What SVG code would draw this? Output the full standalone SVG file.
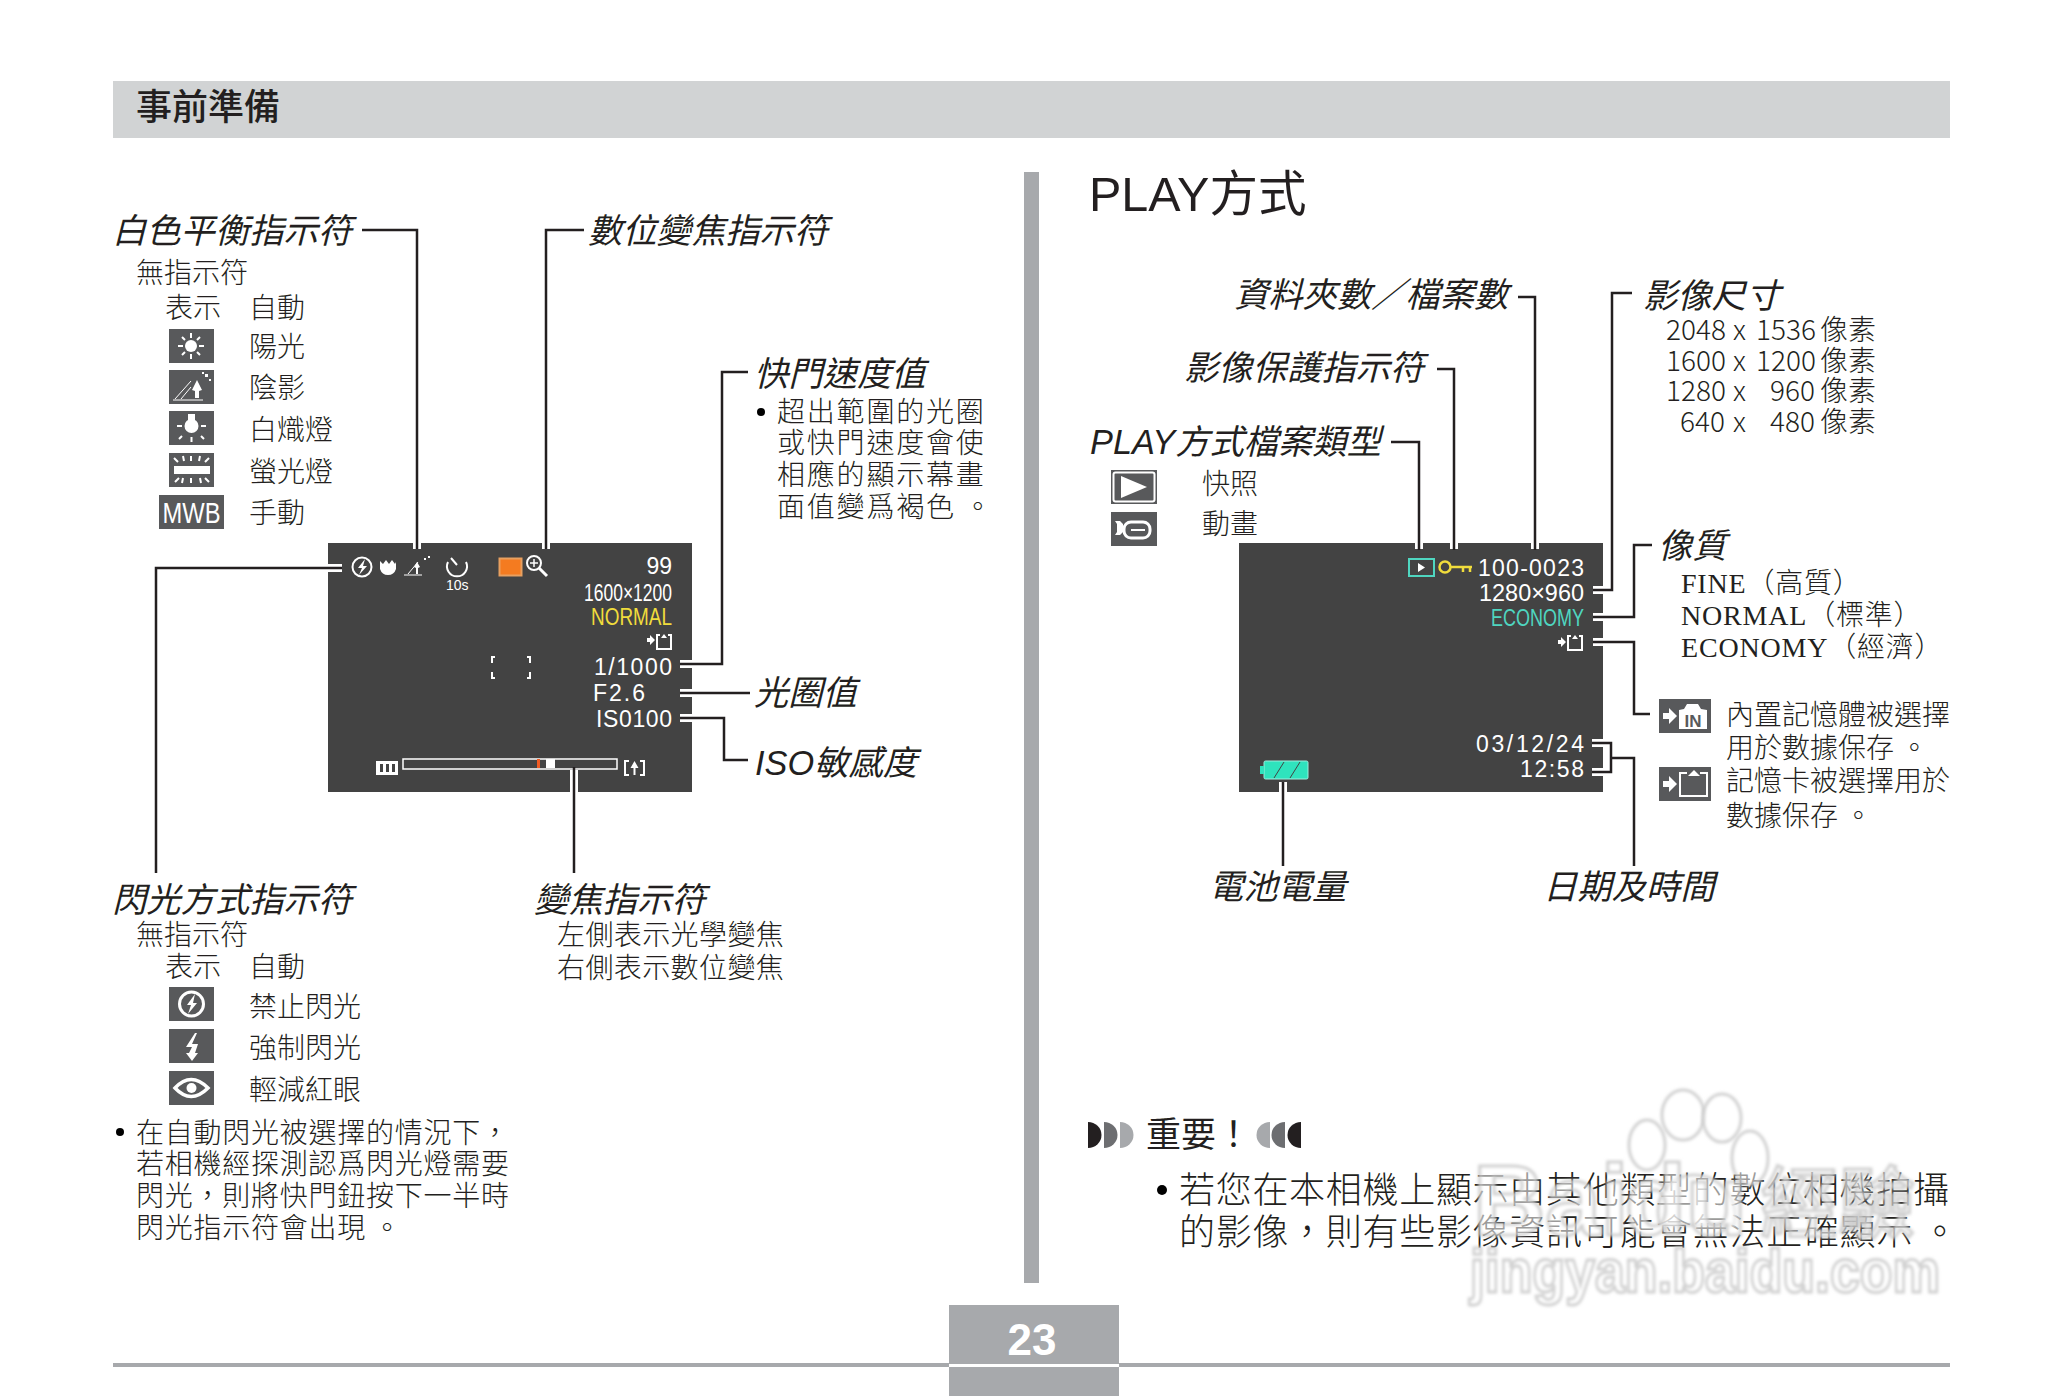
<svg xmlns="http://www.w3.org/2000/svg" width="2064" height="1396" viewBox="0 0 2064 1396">
<style>
text{font-family:"Noto Sans CJK TC","Noto Sans CJK SC",sans-serif;fill:#231f20}
.b{font-family:"Liberation Serif","Noto Sans CJK TC",serif;font-size:28px;font-weight:300}
.c{font-family:"Noto Sans CJK TC",sans-serif;font-size:28px;font-weight:300}
.s{letter-spacing:1.800px}
.t{letter-spacing:.750px}
.h{font-size:34.300px;font-style:italic;font-weight:400}
.l{font-family:"Liberation Sans",sans-serif;fill:#fff;font-size:23px;text-anchor:end}
.ln{fill:none;stroke:#231f20;stroke-width:2.500}
.hl{fill:none;stroke:#fff;stroke-width:8}
.ic{fill:#58595b}
.lcd{fill:#434343}
.w{fill:none;stroke:#fff;stroke-width:2}
.wf{fill:#fff}
.wm{fill:#fff;fill-opacity:.55;stroke:#c8c8c8;stroke-width:3;stroke-opacity:.85;font-family:"Liberation Sans","Noto Sans CJK TC",sans-serif;filter:url(#soft)}
</style>
<defs><filter id="soft" x="-10%" y="-10%" width="120%" height="120%"><feGaussianBlur stdDeviation="1.500"/></filter></defs>
<rect width="2064" height="1396" fill="#fff"/>
<g id="header"><rect x="113" y="81" width="1837" height="57" fill="#d1d3d4"/><text x="136" y="120" font-size="36" font-weight="500">事前準備</text></g>
<rect id="divider" x="1024" y="172" width="15" height="1111" fill="#a7a9ac"/>
<g id="title"><text x="1089" y="211" font-size="48.500" style="font-family:'Liberation Sans','Noto Sans CJK TC',sans-serif">PLAY方式</text></g>

<g id="lcd-record">
<rect class="lcd" x="328" y="543" width="364" height="249"/>
<circle class="w" cx="362" cy="567" r="9.500"/><path class="wf" d="M365 559l-7 9h4l-3 7 8-9h-4z"/>
<path class="wf" d="M380 561l3 3 3-4 3 4 3-4 3 4 1-2v7q-2 6-8 6t-8-6z"/>
<path d="M404 575h18M408 574l10-12" stroke="#fff" stroke-width="1" fill="none"/><path class="wf" d="M416 574v-6l-2-1 3-5 3 5-2 1v6zM424 558h2v2h-2zM428 556h2v2h-2z"/>
<path class="w" d="M448 562a10 10 0 1 0 18 0M451 558l6 7"/>
<text x="446" y="590" style="font-family:'Liberation Sans',sans-serif;fill:#fff;font-size:14px">10s</text>
<rect x="499.500" y="558.500" width="22" height="17" fill="#f47b20" stroke="#e8a060" stroke-width="2"/>
<circle class="w" cx="534" cy="563" r="7"/><path d="M539 568l8 8" stroke="#fff" stroke-width="3"/><path d="M530 563h8M534 559v8" stroke="#fff" stroke-width="1.500"/>
<text class="l" x="672" y="574">99</text>
<text class="l" x="672" y="601" textLength="88" lengthAdjust="spacingAndGlyphs">1600×1200</text>
<text class="l" x="672" y="625" style="fill:#f0dc3c" textLength="81" lengthAdjust="spacingAndGlyphs">NORMAL</text>
<path class="wf" d="M647 638h3v-3l5 5-5 5v-3h-3z"/><path d="M660 635h-3v14h14v-14h-3" class="w" stroke-width="1.500"/><path class="wf" d="M664 634l3 4h-6z"/>
<text class="l" x="672" y="675" textLength="78" lengthAdjust="spacing">1/1000</text>
<text class="l" x="645" y="701" textLength="52" lengthAdjust="spacing">F2.6</text>
<text class="l" x="672" y="727" textLength="76" lengthAdjust="spacing">IS0100</text>
<path class="w" stroke-width="1.500" d="M492 663v-6h3M527 657h3v6M492 672v6h3M527 678h3v-6"/>
<rect x="403" y="759" width="214" height="10" fill="none" stroke="#fff" stroke-width="1.500"/>
<rect x="537" y="759" width="3" height="9" fill="#f15a22"/><rect x="546" y="759" width="9" height="9" fill="#fff"/>
<rect x="376" y="761" width="22" height="14" fill="#fff"/><path d="M380 764h3v8h-3zM386 764h3v8h-3zM392 764h3v8h-3z" fill="#434343"/>
<path class="w" d="M629 761h-4v14h4M640 761h4v14h-4"/><path class="wf" d="M634.500 761l4 7h-3v7h-2v-7h-3z"/>
</g>

<g id="lcd-play">
<rect class="lcd" x="1239" y="543" width="364" height="249"/>
<rect x="1409" y="559" width="25" height="17" fill="none" stroke="#4fd6c0" stroke-width="2"/><path d="M1418 563l7 4.500-7 4.500z" fill="#fff"/>
<circle cx="1445" cy="567" r="5.500" fill="none" stroke="#f0dc3c" stroke-width="2.500"/><path d="M1451 567h21M1463 567v5M1470 567v5" fill="none" stroke="#f0dc3c" stroke-width="2.500"/>
<text class="l" x="1584" y="576" textLength="106" lengthAdjust="spacing">100-0023</text>
<text class="l" x="1584" y="601" textLength="105" lengthAdjust="spacingAndGlyphs">1280×960</text>
<text class="l" x="1584" y="626" style="fill:#4fd6c0" textLength="93" lengthAdjust="spacingAndGlyphs">ECONOMY</text>
<path class="wf" d="M1558 640h3v-3l5 5-5 5v-3h-3z"/><path d="M1571 636h-3v14h14v-14h-3" class="w"/><path class="wf" d="M1575 635l3 4h-6z"/>
<text class="l" x="1584" y="752" textLength="108" lengthAdjust="spacing">03/12/24</text>
<text class="l" x="1584" y="777" textLength="64" lengthAdjust="spacing">12:58</text>
<rect x="1264" y="761" width="44" height="18" rx="1.500" fill="#2fe3bd" stroke="#9eeede" stroke-width="1"/><rect x="1260" y="766" width="4" height="8" fill="#2fe3bd"/>
<path d="M1274 778l10-16M1290 778l10-16" stroke="#434343" stroke-width="1"/>
</g>

<g id="connectors">
<path class="hl" d="M417 543V549M342 568H328M546 543V549M680 664H692M680 693H692M680 718H692M574 770V792M1419 543V549M1454 543V549M1535 543V549M1593 590H1603M1593 617H1603M1593 642H1603M1592 743H1603M1592 772H1603M1283 782V792"/>
<path class="ln" d="M362 230H417V549"/>
<path class="ln" d="M584 230H546V549"/>
<path class="ln" d="M342 568H156V873"/>
<path class="ln" d="M680 664H722V372H748"/>
<path class="ln" d="M680 693H750"/>
<path class="ln" d="M680 718H724V760H748"/>
<path class="ln" d="M574 767V873"/>
<path class="ln" d="M1391 442H1419V550"/>
<path class="ln" d="M1437 369H1454V550"/>
<path class="ln" d="M1518 297H1535V550"/>
<path class="ln" d="M1632 293H1612V590H1593"/>
<path class="ln" d="M1652 545H1634V617H1593"/>
<path class="ln" d="M1593 642H1634V714H1650"/>
<path class="ln" d="M1592 743H1611V772H1592M1611 758H1634V866"/>
<path class="ln" d="M1283 782V866"/>
</g>

<g id="wb">
<text class="h" x="112" y="243">白色平衡指示符</text>
<text class="c" x="136" y="283">無指示符</text>
<text class="c" x="165" y="318">表示</text><text class="c" x="249" y="318">自動</text>
<rect class="ic" x="169" y="329" width="45" height="34"/><circle class="wf" cx="191" cy="346" r="6"/><path stroke="#fff" stroke-width="2" d="M191 333v5M191 354v5M178 346h5M199 346h5M182 337l3 3M197 352l3 3M200 337l-3 3M185 352l-3 3"/>
<text class="c" x="249" y="357">陽光</text>
<rect class="ic" x="169" y="370" width="45" height="34"/><path d="M173 400h30M175 399l16-18M181 399l10-12" stroke="#fff" stroke-width="1"/><path class="wf" d="M195 398v-7l-3-1 5-10 5 10-3 1v7zM205 374h3v3h-3zM209 379h2v2h-2zM202 372h2v2h-2z"/>
<text class="c" x="249" y="398">陰影</text>
<rect class="ic" x="169" y="411" width="45" height="34"/><path class="wf" d="M188 414h7v6h-7z"/><circle class="wf" cx="191.500" cy="426" r="7"/><path stroke="#fff" stroke-width="2" d="M177 426h5M201 426h5M191.500 437v5M182 436l-3 3M201 436l3 3"/>
<text class="c" x="249" y="440">白熾燈</text>
<rect class="ic" x="169" y="453" width="45" height="34"/><rect class="wf" x="174" y="466" width="36" height="8"/><path stroke="#fff" stroke-width="2" d="M191 456v5M183 456l1 5M200 456l-1 5M174 458l4 4M209 458l-4 4M191 478v5M183 478l-1 5M200 478l1 5M175 482l4-4M209 482l-4-4"/>
<text class="c" x="249" y="482">螢光燈</text>
<rect class="ic" x="159" y="495" width="65" height="34"/><text x="191.500" y="523" text-anchor="middle" textLength="58" lengthAdjust="spacingAndGlyphs" style="font-family:'Liberation Sans',sans-serif;fill:#fff;font-size:30px;">MWB</text>
<text class="c" x="249" y="523">手動</text>
</g>

<g id="dzoom"><text class="h" x="588" y="243">數位變焦指示符</text></g>
<g id="shutter">
<text class="h" x="754" y="386">快門速度值</text>
<circle cx="761" cy="412" r="4"/>
<g class="c s"><text x="777" y="422">超出範圍的光圈</text><text x="777" y="453">或快門速度會使</text><text x="777" y="485">相應的顯示幕畫</text><text x="777" y="517">面值變爲褐色 。</text></g>
</g>
<g id="aperture"><text class="h" x="754" y="705">光圈值</text></g>
<g id="iso"><text class="h" x="755" y="775" style="font-family:'Liberation Sans','Noto Sans CJK TC',sans-serif">ISO敏感度</text></g>

<g id="flash">
<text class="h" x="112" y="912">閃光方式指示符</text>
<text class="c" x="136" y="945">無指示符</text>
<text class="c" x="165" y="977">表示</text><text class="c" x="249" y="977">自動</text>
<rect class="ic" x="169" y="987" width="45" height="34"/><circle cx="191.500" cy="1004" r="12" fill="none" stroke="#fff" stroke-width="3"/><path class="wf" d="M195 994l-8 11h4l-3 9 9-11h-4z"/>
<text class="c" x="249" y="1017">禁止閃光</text>
<rect class="ic" x="169" y="1029" width="45" height="34"/><path class="wf" d="M195 1033l-9 14h6l-3 6h-3l6 8 6-8h-3l3-9h-6l5-11z"/>
<text class="c" x="249" y="1058">強制閃光</text>
<rect class="ic" x="169" y="1071" width="45" height="34"/><path d="M175 1088q16-17 33 0q-17 17-33 0z" fill="none" stroke="#fff" stroke-width="3.500"/><circle class="wf" cx="191.500" cy="1088" r="5"/>
<text class="c" x="249" y="1100">輕減紅眼</text>
<circle cx="120" cy="1132" r="4"/>
<g class="c t"><text x="136" y="1143">在自動閃光被選擇的情況下，</text><text x="136" y="1174">若相機經探測認爲閃光燈需要</text><text x="136" y="1206">閃光，則將快門鈕按下一半時</text><text x="136" y="1238">閃光指示符會出現 。</text></g>
</g>

<g id="zoomind">
<text class="h" x="534" y="912">變焦指示符</text>
<text class="c" x="557" y="945" letter-spacing=".400">左側表示光學變焦</text>
<text class="c" x="557" y="978" letter-spacing=".400">右側表示數位變焦</text>
</g>

<g id="folder"><text class="h" x="1234" y="307">資料夾數／檔案數</text></g>
<g id="protect"><text class="h" x="1184" y="380">影像保護指示符</text></g>
<g id="filetype">
<text class="h" x="1090" y="454" style="font-family:'Liberation Sans','Noto Sans CJK TC',sans-serif">PLAY方式檔案類型</text>
<rect class="ic" x="1111" y="470" width="46" height="34"/><rect x="1113.500" y="472.500" width="41" height="29" rx="2" fill="none" stroke="#fff" stroke-width="2"/><path class="wf" d="M1121 476l26 11-26 11z"/>
<text class="c" x="1202" y="494">快照</text>
<rect class="ic" x="1111" y="512" width="46" height="34"/><path class="wf" d="M1115 521h5l3 3v8l-3 3h-5l2-3v-8z"/><rect x="1124" y="522" width="26" height="16" rx="7" fill="none" stroke="#fff" stroke-width="3"/><path stroke="#fff" stroke-width="2" d="M1131 530h14"/>
<text class="c" x="1202" y="534">動畫</text>
</g>
<g id="imgsize">
<text class="h" x="1643" y="308">影像尺寸</text>
<g class="b"><text x="1666" y="340">2048</text><text x="1666" y="371">1600</text><text x="1666" y="401">1280</text><text x="1680" y="432">640</text>
<text x="1756" y="340">1536</text><text x="1756" y="371">1200</text><text x="1770" y="401">960</text><text x="1770" y="432">480</text>
<text x="1733" y="340">x</text><text x="1733" y="371">x</text><text x="1733" y="401">x</text><text x="1733" y="432">x</text></g>
<g class="c"><text x="1820" y="340">像素</text><text x="1820" y="371">像素</text><text x="1820" y="401">像素</text><text x="1820" y="432">像素</text></g>
</g>
<g id="quality">
<text class="h" x="1658" y="558">像質</text>
<text class="b" x="1681" y="593" letter-spacing=".800">FINE（高質）</text>
<text class="b" x="1681" y="625" letter-spacing=".800">NORMAL（標準）</text>
<text class="b" x="1681" y="657" letter-spacing=".800">ECONOMY（經濟）</text>
</g>
<g id="storage">
<rect class="ic" x="1659" y="699" width="52" height="34"/><path class="wf" d="M1663 713h6v-5l8 8-8 8v-5h-6z"/><path class="wf" d="M1679 710l5-1 3-5h11l3 5 6 1v19h-28z"/><text x="1693" y="727" text-anchor="middle" style="font-family:'Liberation Sans',sans-serif;font-weight:700;font-size:17px;fill:#58595b">IN</text>
<text class="c" x="1726" y="725">內置記憶體被選擇</text>
<text class="c" x="1726" y="758">用於數據保存 。</text>
<rect class="ic" x="1659" y="767" width="52" height="34"/><path class="wf" d="M1663 781h6v-5l8 8-8 8v-5h-6z"/><path class="w" stroke-width="2.500" d="M1687 773h-7v23h27v-23h-7"/><path class="wf" d="M1694 770l6 6h-12z"/>
<text class="c" x="1726" y="791">記憶卡被選擇用於</text>
<text class="c" x="1726" y="826">數據保存 。</text>
</g>
<g id="battery"><text class="h" x="1209" y="899">電池電量</text></g>
<g id="datetime"><text class="h" x="1543" y="899">日期及時間</text></g>

<g id="important">
<path d="M1088 1122a13.500 13 0 0 1 0 26z" fill="#231f20"/><path d="M1104 1122a13.500 13 0 0 1 0 26z" fill="#6d6e71"/><path d="M1120 1122a13.500 13 0 0 1 0 26z" fill="#a7a9ac"/>
<text x="1146" y="1147" font-size="35" font-weight="400">重要！</text>
<path d="M1301 1122a13.500 13 0 0 0 0 26z" fill="#231f20"/><path d="M1285 1122a13.500 13 0 0 0 0 26z" fill="#6d6e71"/><path d="M1270 1122a13.500 13 0 0 0 0 26z" fill="#a7a9ac"/>
<circle cx="1162" cy="1190" r="5"/>
<g style="font-size:36px;font-weight:300"><text x="1179" y="1203" letter-spacing="0.700">若您在本相機上顯示由其他類型的數位相機拍攝</text><text x="1179" y="1245" letter-spacing="0.700">的影像，則有些影像資訊可能會無法正確顯示 。</text></g>
</g>
<g id="watermark">
<ellipse class="wm" cx="1683" cy="1115" rx="21" ry="25"/><ellipse class="wm" cx="1722" cy="1118" rx="19" ry="24"/><ellipse class="wm" cx="1647" cy="1145" rx="18" ry="25"/><ellipse class="wm" cx="1750" cy="1158" rx="18" ry="27"/>
<path class="wm" d="M1660 1225c-8-30 12-50 34-50s46 20 40 50z"/>
<text class="wm" x="1473" y="1235" font-size="100" font-weight="700">Bai</text>
<text class="wm" x="1625" y="1235" font-size="100" font-weight="700">du</text>
<text class="wm" x="1760" y="1232" font-size="78">經驗</text>
<text class="wm" x="1470" y="1292" font-size="62" font-weight="700" textLength="470" lengthAdjust="spacingAndGlyphs">jingyan.baidu.com</text>
</g>
<g id="footer">
<rect x="113" y="1363" width="1837" height="4" fill="#a7a9ac"/>
<rect x="949" y="1305" width="170" height="91" fill="#a7a9ac"/>
<rect x="949" y="1364" width="170" height="3" fill="#fff"/>
<text x="1032" y="1355" text-anchor="middle" style="font-family:'Liberation Sans',sans-serif;font-weight:700;font-size:44px;fill:#fff">23</text>
</g>
</svg>
